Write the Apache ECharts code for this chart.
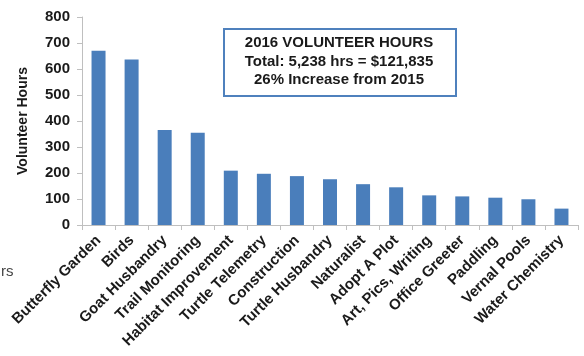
<!DOCTYPE html>
<html>
<head>
<meta charset="utf-8">
<script src="https://cdn.jsdelivr.net/npm/echarts@6/dist/echarts.min.js"></script>
<style>
  html, body { margin: 0; padding: 0; background: #fff; }
  #chart { width: 584px; height: 356px; }
</style>
</head>
<body>
<div id="chart"></div>
<script>
// Volunteer hours by activity, 2016
const activities = [
  'Butterfly Garden', 'Birds', 'Goat Husbandry', 'Trail Monitoring',
  'Habitat Improvement', 'Turtle Telemetry', 'Construction', 'Turtle Husbandry',
  'Naturalist', 'Adopt A Plot', 'Art, Pics, Writing', 'Office Greeter',
  'Paddling', 'Vernal Pools', 'Water Chemistry'
];
const hours = [670, 637, 365, 355, 209, 197, 188, 176, 157, 145, 114, 110, 105, 99, 63];
const yTicks = [0, 100, 200, 300, 400, 500, 600, 700, 800];
const summaryLines = [
  '2016 VOLUNTEER HOURS',
  'Total: 5,238 hrs = $121,835',
  '26% Increase from 2015'
];

const FONT = '"Liberation Sans", Arial, sans-serif';
const AXIS_GREY = '#bfbfbf';
const BAR_BLUE = '#4a7ebb';

const chart = echarts.init(document.getElementById('chart'));
chart.setOption({
  animation: false,
  backgroundColor: '#ffffff',
  grid: { left: 82, right: 6, top: 17, bottom: 131, containLabel: false },
  xAxis: {
    type: 'category',
    data: activities,
    axisLine: { lineStyle: { color: AXIS_GREY, width: 1 } },
    axisTick: { show: true, length: 5, lineStyle: { color: AXIS_GREY } },
    axisLabel: {
      rotate: 45,
      interval: 0,
      margin: 13,
      fontFamily: FONT,
      fontWeight: 'bold',
      fontSize: 15,
      color: '#1a1a1a'
    }
  },
  yAxis: {
    type: 'value',
    min: yTicks[0],
    max: yTicks[yTicks.length - 1],
    interval: yTicks[1] - yTicks[0],
    name: 'Volunteer Hours',
    nameLocation: 'middle',
    nameGap: 52,
    nameRotate: 90,
    nameTextStyle: { fontFamily: FONT, fontWeight: 'bold', fontSize: 14, color: '#1a1a1a' },
    axisLine: { show: true, lineStyle: { color: AXIS_GREY, width: 1 } },
    axisTick: { show: true, length: 5, lineStyle: { color: AXIS_GREY } },
    splitLine: { show: false },
    axisLabel: {
      margin: 12,
      fontFamily: FONT,
      fontWeight: 'bold',
      fontSize: 15,
      color: '#1a1a1a'
    }
  },
  series: [{
    type: 'bar',
    data: hours,
    barWidth: 14,
    itemStyle: { color: BAR_BLUE }
  }],
  graphic: [
    {
      type: 'rect',
      left: 223, top: 28,
      shape: { width: 232, height: 67 },
      style: { fill: '#ffffff', stroke: '#4f81bd', lineWidth: 2 },
      z: 10
    },
    {
      type: 'text',
      x: 339,
      y: 34,
      style: {
        text: summaryLines.join('\n'),
        fontFamily: FONT,
        fontWeight: 'bold',
        fontSize: 15,
        lineHeight: 18.5,
        align: 'center',
        verticalAlign: 'top',
        fill: '#1a1a1a'
      },
      z: 11
    },
    {
      type: 'text',
      left: 1, top: 264,
      style: { text: 'rs', fontFamily: FONT, fontSize: 15, fill: '#444' }
    }
  ]
});
</script>
</body>
</html>
